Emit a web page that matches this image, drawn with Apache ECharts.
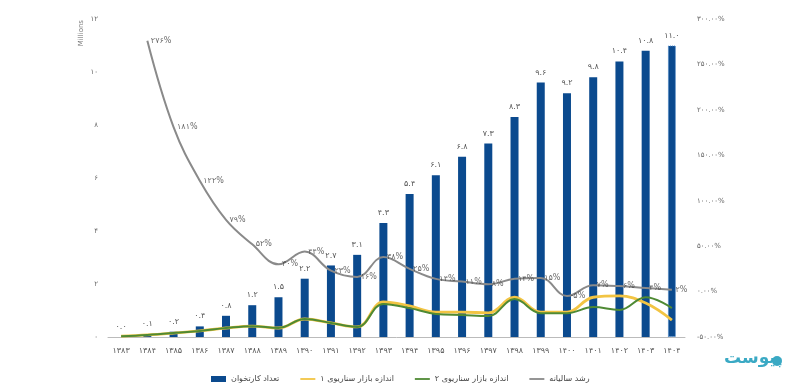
<!DOCTYPE html>
<html><head><meta charset="utf-8">
<script src="https://cdn.jsdelivr.net/npm/echarts@6/dist/echarts.min.js"></script>
<style>html,body{margin:0;padding:0;background:#fff}#c{width:800px;height:387px}</style>
</head><body><div id="c"></div>
<script>
var years = [1383,1384,1385,1386,1387,1388,1389,1390,1391,1392,1393,1394,1395,1396,1397,1398,1399,1400,1401,1402,1403,1404];
var cardReaders = [0.0,0.1,0.2,0.4,0.8,1.2,1.5,2.2,2.7,3.1,4.3,5.4,6.1,6.8,7.3,8.3,9.6,9.2,9.8,10.4,10.8,11.0];
var scenario1 = [0.03,0.08,0.15,0.23,0.34,0.41,0.34,0.68,0.53,0.38,1.32,1.17,0.94,0.94,0.91,1.5,0.94,0.94,1.5,1.55,1.28,0.64];
var scenario2 = [0.03,0.08,0.15,0.23,0.34,0.41,0.34,0.68,0.53,0.38,1.25,1.09,0.87,0.83,0.79,1.43,0.9,0.9,1.13,1.02,1.5,1.09];
var growth = [null,276,181,122,79,52,30,44,23,16,38,25,14,11,8,14,15,-5,7,6,4,2];
var names = ['تعداد کارتخوان','اندازه بازار سناریوی ۱','اندازه بازار سناریوی ۲','رشد سالیانه'];

function fa(s){ return String(s).replace(/[0-9]/g,function(d){return '۰۱۲۳۴۵۶۷۸۹'[+d];}); }
var FONT = 'DejaVu Sans';
var LINE_ICON = 'path://M0,0H20V2.4H0Z';
var chart = echarts.init(document.getElementById('c'));
var barData = cardReaders.map(function(v,i){
  if(i===cardReaders.length-1) return {value:v,itemStyle:{borderColor:'#4a86c8',borderWidth:1,borderType:'dotted'}};
  return v;
});
chart.setOption({
  animation:false,
  textStyle:{fontFamily:FONT},
  grid:{left:108,right:115,top:19,bottom:50},
  legend:{
    left:206, top:370, itemGap:21, itemWidth:15, itemHeight:6,
    data:[
      {name:names[0],icon:'rect'},
      {name:names[1],icon:LINE_ICON},
      {name:names[2],icon:LINE_ICON},
      {name:names[3],icon:LINE_ICON}
    ],
    textStyle:{fontSize:8,color:'#444',fontFamily:FONT}
  },
  xAxis:{
    type:'category', data:years,
    axisLine:{lineStyle:{color:'#bbb',width:1}},
    axisTick:{show:false},
    axisLabel:{fontSize:8,color:'#555',margin:10,formatter:function(v){return fa(v);}}
  },
  yAxis:[
    {type:'value',min:0,max:12,interval:2,splitLine:{show:false},axisLine:{show:false},axisTick:{show:false},
     axisLabel:{fontSize:7,color:'#666',margin:10,formatter:function(v){return fa(v);}}},
    {type:'value',min:-50,max:300,interval:50,splitLine:{show:false},axisLine:{show:false},axisTick:{show:false},
     axisLabel:{fontSize:7,color:'#666',margin:12,formatter:function(v){return (v<0?'-':'')+fa(Math.abs(v).toFixed(2))+'%';}}}
  ],
  graphic:[
    {type:'text',left:78,top:20,rotation:Math.PI/2,style:{text:'Millions',fontSize:7,fill:'#777',fontFamily:FONT}},
    {type:'text',left:724,top:350,style:{text:'پیوست',fontSize:17,fontWeight:'bold',fill:'#3aa9c4',fontFamily:FONT}},
    {type:'circle',shape:{cx:777,cy:361,r:5},style:{fill:'#3aa9c4'}}
  ],
  series:[
    {name:names[0],type:'bar',data:barData,barWidth:8,itemStyle:{color:'#0b4a8e'},
     label:{show:true,position:'top',distance:6,fontSize:8,color:'#555',formatter:function(p){return fa(p.value.toFixed(1));}}},
    {name:names[1],type:'line',data:scenario1,smooth:0.4,symbol:'none',lineStyle:{color:'#f2c443',width:2.8},itemStyle:{color:'#f2c443'},z:3},
    {name:names[2],type:'line',data:scenario2,smooth:0.4,symbol:'none',lineStyle:{color:'#4f8a34',width:2},itemStyle:{color:'#4f8a34'},z:4},
    {name:names[3],type:'line',yAxisIndex:1,data:growth,smooth:0.4,symbol:'none',
     lineStyle:{color:'#8a8a8a',width:2},itemStyle:{color:'#8a8a8a'},z:5},
    {name:'growthLabels',type:'scatter',yAxisIndex:1,data:growth,symbolSize:1,itemStyle:{color:'rgba(0,0,0,0)'},z:6,silent:true,
     label:{show:true,position:'right',distance:3,fontSize:8,color:'#444',
       formatter:function(p){ if(p.value==null) return ''; return (p.value<0?'-':'')+fa(Math.abs(p.value))+'%';}}}
  ]
});
</script></body></html>
